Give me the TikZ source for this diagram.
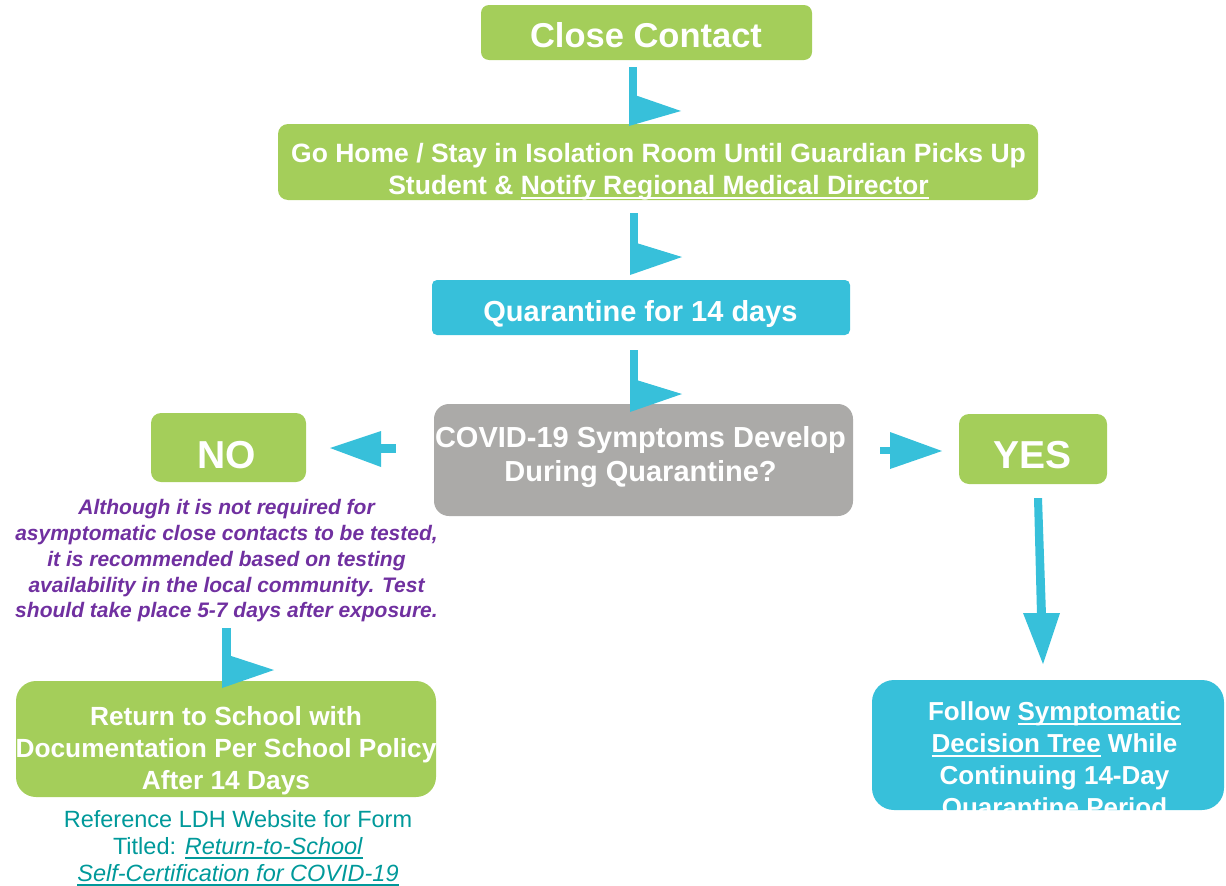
\documentclass[tikz,border=0pt]{standalone}
\usepackage{fontspec}
\setmainfont{Liberation Sans}
\usetikzlibrary{calc}
\definecolor{boxgreen}{HTML}{A4CE5A}
\definecolor{boxteal}{HTML}{37C0DA}
\definecolor{boxgray}{HTML}{ABAAA8}
\definecolor{notepurple}{HTML}{7030A0}
\definecolor{reftext}{HTML}{00999A}
\definecolor{arrowteal}{HTML}{37C0DA}
\newsavebox\myulbox
\newcommand{\myul}[1]{\sbox\myulbox{#1}\rlap{\rule[-4.3pt]{\wd\myulbox}{1.8pt}}\usebox\myulbox}
\begin{document}
\begin{tikzpicture}[x=1pt,y=-1pt,
  box/.style={rectangle,inner sep=0pt,outer sep=0pt,draw=none},
  wtxt/.style={text=white,align=center,inner sep=0pt},
  arrowfill/.style={fill=arrowteal,draw=none}]
\useasboundingbox (0,0) rectangle (1226,886);

% boxes
\node[box,fill=boxgreen,rounded corners=8pt,minimum width=331pt,minimum height=55pt] (cc) at (646.5,32.5) {};
\node[box,fill=boxgreen,rounded corners=10pt,minimum width=760pt,minimum height=76pt] (gh) at (658,162) {};
\node[box,fill=boxteal,rounded corners=5pt,minimum width=418pt,minimum height=55pt] (q) at (641,307.5) {};
\node[box,fill=boxgray,rounded corners=15pt,minimum width=419pt,minimum height=112pt] (sym) at (643.5,460) {};
\node[box,fill=boxgreen,rounded corners=10pt,minimum width=155pt,minimum height=69pt] (no) at (228.5,447.5) {};
\node[box,fill=boxgreen,rounded corners=10pt,minimum width=148pt,minimum height=70pt] (yes) at (1033,449) {};
\node[box,fill=boxgreen,rounded corners=20pt,minimum width=420pt,minimum height=116pt] (ret) at (226,739) {};
\node[box,fill=boxteal,rounded corners=22pt,minimum width=352pt,minimum height=130pt] (fol) at (1048,745) {};

% texts
\node[wtxt,font=\bfseries\fontsize{34.5}{40}\selectfont] (ccT) at (646,34.7) {Close Contact};
\node[wtxt,font=\bfseries\fontsize{26.5}{32}\selectfont] (ghT) at (658.5,171.6)
  {Go Home / Stay in Isolation Room Until Guardian Picks Up\\Student \& \myul{Notify Regional Medical Director}};
\node[wtxt,font=\bfseries\fontsize{29}{34}\selectfont] (qT) at (640.5,313.8) {Quarantine for 14 days};
\node[wtxt,font=\bfseries\fontsize{29}{34}\selectfont] (symT) at (640.5,457.4)
  {COVID-19 Symptoms Develop\\During Quarantine?};
\node[wtxt,font=\bfseries\fontsize{39}{44}\selectfont] (noT) at (227,455) {NO};
\node[wtxt,font=\bfseries\fontsize{39}{44}\selectfont] (yesT) at (1032.5,455) {YES};
\node[align=center,inner sep=0pt,text=notepurple,font=\bfseries\itshape\fontsize{21}{25.75}\selectfont] (note) at (226.5,561)
  {Although it is not required for\\asymptomatic close contacts to be tested,\\it is recommended based on testing\\availability in the local community. Test\\should take place 5-7 days after exposure.};
\node[wtxt,font=\bfseries\fontsize{26.3}{32}\selectfont] (retT) at (226,750.3)
  {Return to School with\\Documentation Per School Policy\\After 14 Days};
\node[wtxt,font=\bfseries\fontsize{26}{32}\selectfont] (folT) at (1054.5,761.5)
  {Follow \myul{Symptomatic}\\\myul{Decision Tree} While\\Continuing 14-Day\\Quarantine Period};
\node[align=center,inner sep=0pt,text=reftext,font=\fontsize{23.5}{27.2}\selectfont] (ref) at (238,848)
  {Reference LDH Website for Form\\Titled: \myul{\textit{Return-to-School}}\\\myul{\textit{Self-Certification for COVID-19}}};

% connectors
% close contact -> go home
\fill[arrowfill] ($(cc.south)+(-17.5,7)$) rectangle ($(cc.south)+(-9.5,40)$);
\fill[arrowfill] ($(gh.north)+(-29,-31)$) -- ($(gh.north)+(23,-13)$) -- ($(gh.north)+(-29,2)$) -- cycle;
% go home -> quarantine
\fill[arrowfill] ($(gh.south)+(-28,13)$) rectangle ($(gh.south)+(-20,45)$);
\fill[arrowfill] ($(q.north)+(-11,-39)$) -- ($(q.north)+(41,-23)$) -- ($(q.north)+(-11,-5)$) -- cycle;
% quarantine -> symptoms
\fill[arrowfill] ($(q.south)+(-11,15)$) rectangle ($(q.south)+(-3,47)$);
\fill[arrowfill] ($(sym.north)+(-13.5,-26)$) -- ($(sym.north)+(38.5,-10)$) -- ($(sym.north)+(-13.5,8)$) -- cycle;
% symptoms -> NO
\fill[arrowfill] ($(sym.west)+(-38,-16)$) rectangle ($(sym.west)+(-54,-7)$);
\fill[arrowfill] ($(no.east)+(75,-16.5)$) -- ($(no.east)+(24,0.5)$) -- ($(no.east)+(75,19.5)$) -- cycle;
% symptoms -> YES
\fill[arrowfill] ($(sym.east)+(27,-13)$) rectangle ($(sym.east)+(38,-6)$);
\fill[arrowfill] ($(yes.west)+(-69,-17)$) -- ($(yes.west)+(-17,2)$) -- ($(yes.west)+(-69,20)$) -- cycle;
% YES -> follow
\fill[arrowfill] ($(yes.south)+(1,14)$) -- ($(yes.south)+(9,14)$) -- ($(fol.north)+(-2,-65)$) -- ($(fol.north)+(-11,-65)$) -- cycle;
\fill[arrowfill] ($(fol.north)+(-25,-67)$) -- ($(fol.north)+(12,-67)$) -- ($(fol.north)+(-5,-16)$) -- cycle;
% note -> return
\fill[arrowfill] ($(note.south)+(-4.5,6)$) rectangle ($(ret.north)+(5,-25)$);
\fill[arrowfill] ($(ret.north)+(-4,-28)$) -- ($(ret.north)+(48,-11)$) -- ($(ret.north)+(-4,7)$) -- cycle;
\end{tikzpicture}
\end{document}
